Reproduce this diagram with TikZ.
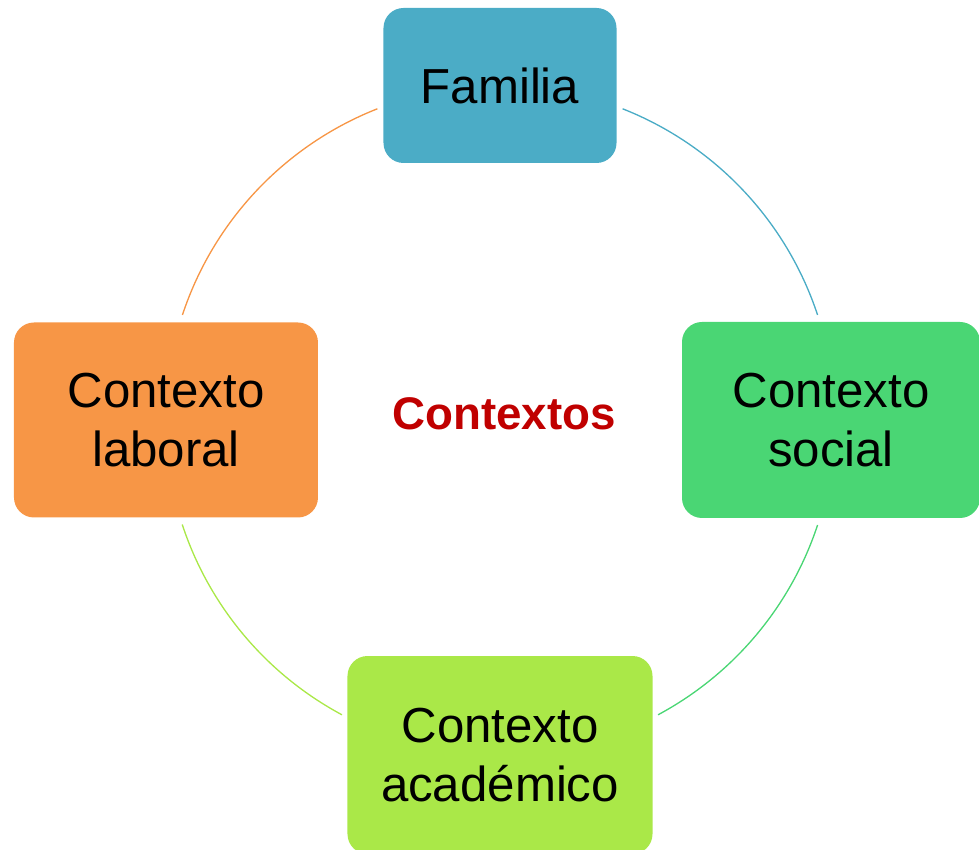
\documentclass[tikz,border=0pt]{standalone}
\usepackage{fontspec}
\setmainfont{Liberation Sans}
\definecolor{famblue}{RGB}{75,172,198}
\definecolor{socgreen}{RGB}{74,214,116}
\definecolor{acalime}{RGB}{170,232,72}
\definecolor{laborange}{RGB}{247,150,70}
\definecolor{ctxred}{RGB}{192,0,0}
\tikzset{
  ctxbox/.style={draw=none, rounded corners=0.4cm, align=center, inner sep=0pt,
    font=\fontsize{28}{33.5}\selectfont},
  ring/.style={line width=0.75pt}
}

\begin{document}
\begin{tikzpicture}
    \useasboundingbox (-10.0,-8.58) rectangle (9.58,8.4);
    \coordinate (o) at (0,0);
    % Centre label
    \node [font=\bfseries\fontsize{26}{30}\selectfont, text=ctxred] (ctx) at (0.08,0.13) {Contextos};
    % The four contexts
    \node [ctxbox, fill=famblue, minimum width=4.66cm, minimum height=3.1cm] (fam) at (0,6.69) {Familia};
    \node [ctxbox, fill=socgreen, minimum width=5.96cm, minimum height=3.92cm] (soc) at (6.62,0) {Contexto\\social};
    \node [ctxbox, fill=acalime, minimum width=6.1cm, minimum height=3.96cm] (aca) at (0,-6.70) {Contexto\\académico};
    \node [ctxbox, fill=laborange, minimum width=6.08cm, minimum height=3.9cm] (lab) at (-6.68,0) {Contexto\\laboral};
    % Ring between them
    \draw [ring, famblue] (o) ++(68.5:6.69) arc [start angle=68.5, end angle=18.3, radius=6.69];
    \draw [ring, socgreen] (o) ++(-18.3:6.69) arc [start angle=-18.3, end angle=-61.8, radius=6.69];
    \draw [ring, acalime] (o) ++(-118.2:6.69) arc [start angle=-118.2, end angle=-161.8, radius=6.69];
    \draw [ring, laborange] (o) ++(161.7:6.69) arc [start angle=161.7, end angle=111.5, radius=6.69];
\end{tikzpicture}
\end{document}
